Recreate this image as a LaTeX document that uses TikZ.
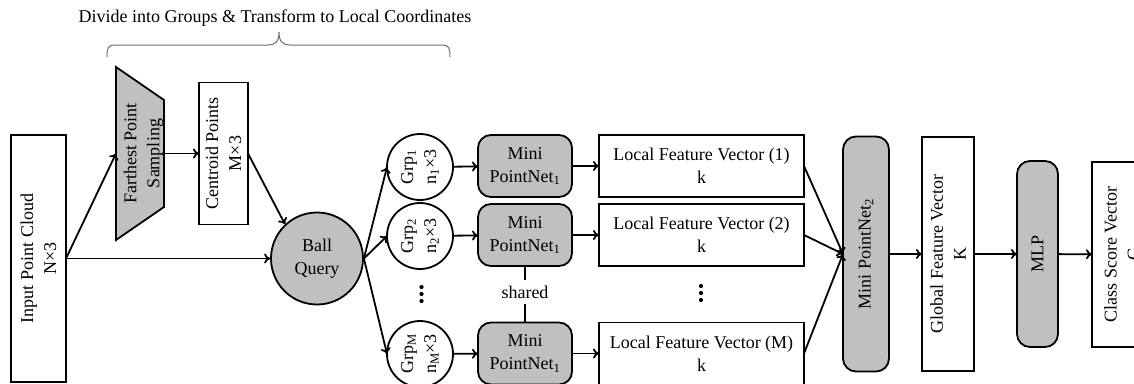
\documentclass[tikz,border=0pt]{standalone}
\usepackage{fontspec}
\setmainfont{Liberation Serif}
\usetikzlibrary{arrows.meta}
\definecolor{boxgray}{RGB}{192,192,192}
\definecolor{bracegray}{RGB}{110,110,110}
\begin{document}
\begin{tikzpicture}[x=1pt,y=-1pt,
  font=\fontsize{18}{23}\selectfont,
  lw/.style={line width=1.8pt},
  blk/.style={draw, lw, fill=white, inner sep=0pt, outer sep=0pt},
  grayblk/.style={blk, fill=boxgray},
  rblk/.style={grayblk, rounded corners=13pt},
  grp/.style={draw, lw, circle, fill=white, minimum size=66pt, inner sep=0pt, outer sep=0pt},
  lbl/.style={align=center, inner sep=0pt},
  vlbl/.style={lbl, rotate=90},
  flow/.style={-{To[length=6pt,width=10pt]}, lw},
  link/.style={lw},
  vdot/.style={circle, fill=black, inner sep=0pt, minimum size=4.2pt}
]
\useasboundingbox (0,0) rectangle (1134,383);
\clip (0,0) rectangle (1134,383);

% heading and brace over the grouping stage
\node[lbl] (title) at (275,18) {Divide into Groups \& Transform to Local Coordinates};
\draw[bracegray, line width=1pt]
  (107,57) .. controls (107,48) and (108,45) .. (115,45) -- (268,45)
  .. controls (275,45) and (279,42) .. (279,32)
  .. controls (279,42) and (283,45) .. (290,45) -- (442,45)
  .. controls (449,45) and (450,48) .. (450,57);

% input
\node[blk, minimum width=55, minimum height=247] (inp) at (38.5,258.5) {};
\node[vlbl] (inp-t) at (inp) {Input Point Cloud\\N×3};

% farthest point sampling (trapezoid)
\filldraw[fill=boxgray, lw] (116,67) -- (164,100) -- (164,207) -- (116,240) -- cycle;
\coordinate (fps-in) at (116,153.5);
\coordinate (fps-out) at (164,153.5);
\node[vlbl] (fps-t) at (143.5,153.5) {Farthest Point\\Sampling};

% centroids
\node[blk, minimum width=49, minimum height=142] (cen) at (223.5,153.5) {};
\node[vlbl] (cen-t) at (cen) {Centroid Points\\M×3};

% ball query
\node[draw, lw, circle, fill=boxgray, minimum size=92pt, inner sep=0pt, align=center] (ball) at (317,258.5) {Ball\\Query};

% groups
\node[grp] (g1) at (420,167) {};
\node[vlbl] (g1-t) at (g1) {Grp\textsubscript{1}\\n\textsubscript{1}×3};
\node[grp] (g2) at (420,236) {};
\node[vlbl] (g2-t) at (g2) {Grp\textsubscript{2}\\n\textsubscript{2}×3};
\node[grp] (gM) at (420,354) {};
\node[vlbl] (gM-t) at (gM) {Grp\textsubscript{M}\\n\textsubscript{M}×3};
\node[vdot] (gd1) at (421.5,287) {};
\node[vdot] (gd2) at (421.5,294) {};
\node[vdot] (gd3) at (421.5,301) {};

% shared mini pointnets
\node[rblk, lbl, minimum width=94, minimum height=62] (m1) at (525,166) {Mini\\PointNet\textsubscript{1}};
\node[rblk, lbl, minimum width=94, minimum height=62] (m2) at (525,235) {Mini\\PointNet\textsubscript{1}};
\node[rblk, lbl, minimum width=94, minimum height=62] (mM) at (525,353.5) {Mini\\PointNet\textsubscript{1}};
\node[inner sep=5pt] (sh) at (525,292) {shared};

% local feature vectors
\node[blk, lbl, minimum width=205, minimum height=62] (l1) at (701.5,166) {Local Feature Vector (1)\\k};
\node[blk, lbl, minimum width=205, minimum height=62] (l2) at (701.5,235) {Local Feature Vector (2)\\k};
\node[blk, lbl, minimum width=205, minimum height=62] (lM) at (701.5,353.5) {Local Feature Vector (M)\\k};
\node[vdot] (ld1) at (701,286) {};
\node[vdot] (ld2) at (701,293) {};
\node[vdot] (ld3) at (701,300) {};

% global stage
\node[rblk, minimum width=46, minimum height=235] (mp2) at (866,254) {};
\node[vlbl] (mp2-t) at (mp2) {Mini PointNet\textsubscript{2}};
\node[blk, minimum width=52, minimum height=234] (gfv) at (948,254) {};
\node[vlbl] (gfv-t) at (gfv) {Global Feature Vector\\K};
\node[rblk, minimum width=41, minimum height=186] (mlp) at (1037.5,254) {};
\node[vlbl] (mlp-t) at (mlp) {MLP};
\node[blk, minimum width=60, minimum height=185] (csv) at (1122,254.5) {};
\node[vlbl] (csv-t) at (csv) {Class Score Vector\\C};

% connectors
\draw[flow] (inp.east) -- (fps-in);
\draw[flow] (inp.east) -- (ball.west);
\draw[flow] (fps-out) -- (cen.west);
\draw[flow] (cen.east) -- (ball.133);
\draw[flow] (ball.east) -- (g1.west);
\draw[flow] (ball.east) -- (g2.west);
\draw[flow] (ball.east) -- (gM.west);
\draw[flow] (g1) -- (m1);
\draw[flow] (g2) -- (m2);
\draw[flow] (gM) -- (mM);
\draw[flow] (m1) -- (l1);
\draw[flow] (m2) -- (l2);
\draw[flow] (mM) -- (lM);
\draw[link] (m2.south) -- (sh.north);
\draw[link] (sh.south) -- (mM.north);
\draw[flow] (l1.east) -- (mp2.west);
\draw[flow] (l2.east) -- (mp2.west);
\draw[flow] (lM.east) -- (mp2.west);
\draw[flow] (mp2) -- (gfv);
\draw[flow] (gfv) -- (mlp);
\draw[flow] (mlp) -- (csv);
\end{tikzpicture}
\end{document}
